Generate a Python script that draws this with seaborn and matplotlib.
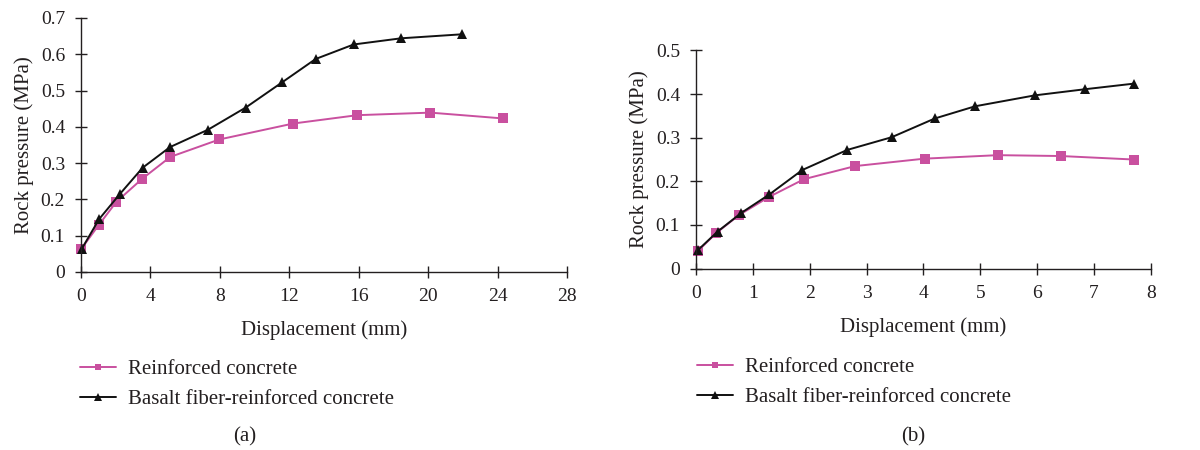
import numpy as np
import pandas as pd
import matplotlib
matplotlib.use("Agg")
import matplotlib.pyplot as plt
import seaborn as sns
from matplotlib.lines import Line2D

# ---- data ----
a_rc_x = [0.0, 1.02, 2.04, 3.51, 5.15, 7.97, 12.23, 15.92, 20.13, 24.31]
a_rc_y = [0.062, 0.129, 0.193, 0.256, 0.317, 0.365, 0.409, 0.432, 0.439, 0.423]
a_bf_x = [0.04, 1.04, 2.23, 3.55, 5.13, 7.32, 9.49, 11.6, 13.52, 15.71, 18.44, 21.93]
a_bf_y = [0.063, 0.145, 0.214, 0.287, 0.344, 0.392, 0.453, 0.523, 0.587, 0.627, 0.644, 0.655]

b_rc_x = [0.03, 0.36, 0.76, 1.28, 1.90, 2.80, 4.02, 5.31, 6.42, 7.70]
b_rc_y = [0.040, 0.082, 0.123, 0.164, 0.205, 0.235, 0.252, 0.260, 0.258, 0.250]
b_bf_x = [0.03, 0.38, 0.80, 1.29, 1.87, 2.66, 3.44, 4.20, 4.91, 5.96, 6.84, 7.71]
b_bf_y = [0.042, 0.085, 0.128, 0.170, 0.226, 0.272, 0.301, 0.344, 0.372, 0.397, 0.411, 0.424]

series_names = ["Reinforced concrete", "Basalt fiber-reinforced concrete"]
a_xticks = [0, 4, 8, 12, 16, 20, 24, 28]
a_yticks = [0, 0.1, 0.2, 0.3, 0.4, 0.5, 0.6, 0.7]
a_yticklabels = ["0", "0.1", "0.2", "0.3", "0.4", "0.5", "0.6", "0.7"]
b_xticks = [0, 1, 2, 3, 4, 5, 6, 7, 8]
b_yticks = [0, 0.1, 0.2, 0.3, 0.4, 0.5]
b_yticklabels = ["0", "0.1", "0.2", "0.3", "0.4", "0.5"]
xlabel = "Displacement (mm)"
ylabel = "Rock pressure (MPa)"
panel_labels = ["(a)", "(b)"]

# ---- style ----
sns.set_theme(style="ticks")
plt.rcParams['font.family'] = ['Liberation Serif', 'DejaVu Serif']
TXT = "#231f20"
PINK = "#c9509f"
BLACK = "#111111"
FS = 15
TFS = 14

fig = plt.figure(figsize=(12, 4.5), dpi=100)
ax_a = fig.add_axes([0.0675, 0.396, 0.405, 0.564])
ax_b = fig.add_axes([0.580, 0.403, 0.379, 0.485])


def draw(ax, rx, ry, bx, by, xt, yt, ytl, xlim, ylim):
    df_r = pd.DataFrame({"x": rx, "y": ry})
    df_b = pd.DataFrame({"x": bx, "y": by})
    sns.lineplot(data=df_r, x="x", y="y", ax=ax, color=PINK, marker="s",
                 markersize=6.5, markeredgewidth=0, linewidth=1.4, sort=False)
    sns.lineplot(data=df_b, x="x", y="y", ax=ax, color=BLACK, marker="^",
                 markersize=7, markeredgewidth=0, linewidth=1.4, sort=False)
    ax.set_xlim(*xlim)
    ax.set_ylim(*ylim)
    ax.set_xticks(xt)
    ax.set_xticklabels([str(v) for v in xt])
    ax.set_yticks(yt)
    ax.set_yticklabels(ytl)
    ax.tick_params(direction="inout", length=8, width=1.0, colors=TXT,
                   labelsize=TFS, labelcolor=TXT)
    ax.tick_params(axis="x", pad=8)
    ax.tick_params(axis="y", pad=7.5)
    for s in ["top", "right"]:
        ax.spines[s].set_visible(False)
    for s in ["left", "bottom"]:
        ax.spines[s].set_color(TXT)
        ax.spines[s].set_linewidth(1.0)
    ax.set_xlabel(xlabel, fontsize=FS, color=TXT, labelpad=11)
    ax.set_ylabel(ylabel, fontsize=FS, color=TXT, labelpad=5)
    for sp in ax.spines.values():
        sp.set_clip_on(False)
    for ln in ax.lines:
        ln.set_clip_on(False)


draw(ax_a, a_rc_x, a_rc_y, a_bf_x, a_bf_y, a_xticks, a_yticks, a_yticklabels, (0, 28), (0, 0.7))
draw(ax_b, b_rc_x, b_rc_y, b_bf_x, b_bf_y, b_xticks, b_yticks, b_yticklabels, (0, 8), (0, 0.5))

handles = [
    Line2D([0], [0], color=PINK, marker="s", markersize=5, markeredgewidth=0, linewidth=1.4),
    Line2D([0], [0], color=BLACK, marker="^", markersize=5.5, markeredgewidth=0, linewidth=1.4),
]
for x0, y0 in [(0.060, 0.146), (0.574, 0.150)]:
    fig.legend(handles, series_names, loc="center left", bbox_to_anchor=(x0, y0),
               frameon=False, fontsize=FS, labelcolor=TXT, handlelength=1.7,
               handletextpad=0.6, labelspacing=0.5, borderaxespad=0)

fig.text(0.204, 0.03, panel_labels[0], fontsize=FS, color=TXT, ha="center", va="center")
fig.text(0.761, 0.03, panel_labels[1], fontsize=FS, color=TXT, ha="center", va="center")

fig.savefig("out.png", dpi=100, facecolor="white")
